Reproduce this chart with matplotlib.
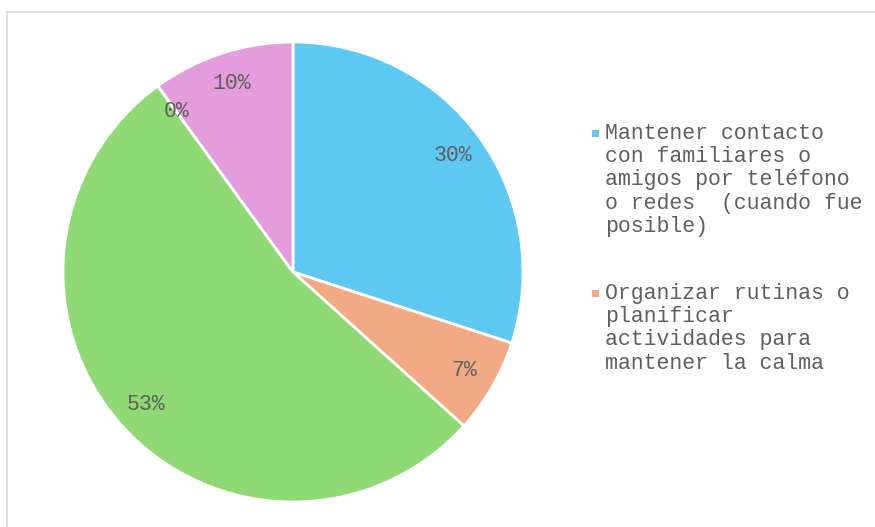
import matplotlib.pyplot as plt
from matplotlib.patches import Rectangle

# respuestas (conteos) - 5 categorias, solo 2 visibles en la leyenda
values = [9, 2, 16, 0, 3]
colors = ['#5DC9F2', '#F2AA84', '#90DA75', '#F2D16B', '#E39DDD']
legend_labels = [
    'Mantener contacto\ncon familiares o\namigos por teléfono\no redes  (cuando fue\nposible)',
    'Organizar rutinas o\nplanificar\nactividades para\nmantener la calma',
]

W, H = 875, 527
fig = plt.figure(figsize=(W / 100, H / 100), dpi=100)
plt.rcParams['font.family'] = ['Liberation Mono', 'DejaVu Sans']
text_color = '#5f5f5f'
fs = 15.5

# outer frame (clipped at right/bottom like the original)
fig.add_artist(Rectangle((7 / W, -0.1), 1.2, 1 - 12 / H + 0.1, transform=fig.transFigure,
                         fill=False, edgecolor='#D9D9D9', linewidth=1.2))

cx, cy, r = 293, 272, 230
ax = fig.add_axes([(cx - r) / W, (H - cy - r) / H, 2 * r / W, 2 * r / H])
wedges, texts, autotexts = ax.pie(
    values, colors=colors, startangle=90, counterclock=False,
    autopct='%1.0f%%', pctdistance=0.86,
    wedgeprops=dict(edgecolor='white', linewidth=2),
    textprops=dict(color=text_color, fontsize=fs))
ax.set_xlim(-1, 1)
ax.set_ylim(-1, 1)
ax.set_aspect('equal')

# legend (only first two entries fit)
tops = [124, 284]
for lab, col, top in zip(legend_labels, colors, tops):
    fig.add_artist(Rectangle((592 / W, 1 - (top + 13) / H), 7 / W, 7 / H,
                             transform=fig.transFigure, facecolor=col, edgecolor='none'))
    fig.text(605 / W, 1 - (top - 1) / H, lab, ha='left', va='top', fontsize=fs,
             color=text_color, linespacing=1.14)

fig.savefig('out.png', dpi=100)
